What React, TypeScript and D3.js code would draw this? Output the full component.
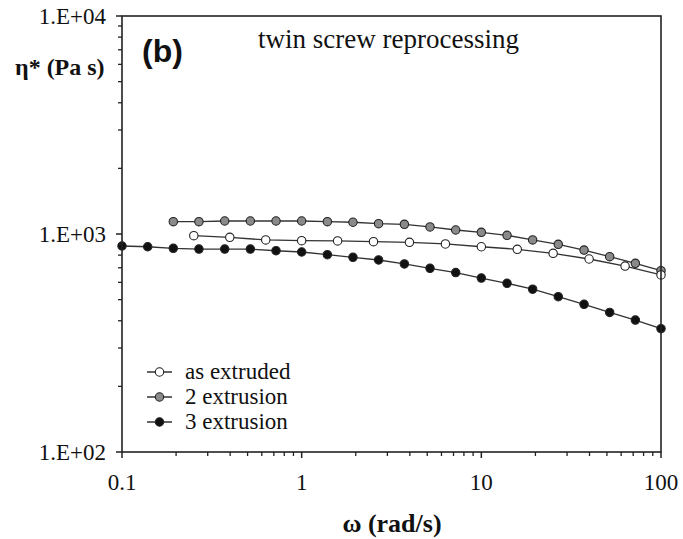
import React from "react";
import * as d3 from "d3";

const freqAsExtruded = [0.251, 0.398, 0.631, 1, 1.585, 2.51, 3.98, 6.31, 10, 15.85, 25.1, 39.8, 63.1, 100];
const etaAsExtruded = [982, 966, 939, 932, 929, 922, 916, 900, 874, 851, 815, 768, 713, 649];

const freq2Extrusion = [0.193, 0.268, 0.373, 0.518, 0.72, 1, 1.39, 1.93, 2.68, 3.73, 5.18, 7.2, 10, 13.9, 19.3, 26.8, 37.3, 51.8, 72, 100];
const eta2Extrusion = [1139, 1139, 1147, 1147, 1147, 1147, 1139, 1132, 1115, 1108, 1077, 1043, 1018, 986, 939, 897, 844, 787, 734, 679];

const freq3Extrusion = [0.1, 0.139, 0.193, 0.268, 0.373, 0.518, 0.72, 1, 1.39, 1.93, 2.68, 3.73, 5.18, 7.2, 10, 13.9, 19.3, 26.8, 37.3, 51.8, 72, 100];
const eta3Extrusion = [881, 874, 860, 853, 853, 853, 838, 827, 804, 782, 760, 729, 696, 665, 628, 594, 558, 516, 476, 437, 403, 368];

const xTickValues = [0.1, 1, 10, 100];
const xTickLabels = ["0.1", "1", "10", "100"];
const yTickValues = [100, 1000, 10000];
const yTickLabels = ["1.E+02", "1.E+03", "1.E+04"];

const seriesNames = ["as extruded", "2 extrusion", "3 extrusion"];
const seriesFills = ["#ffffff", "#8a8a8a", "#111111"];

const W = 683, H = 539;
const L = 122, R = 661, T = 16, B = 452;

export default function App() {
  const x = d3.scaleLog().domain([0.1, 100]).range([L, R]);
  const y = d3.scaleLog().domain([100, 10000]).range([B, T]);

  const series = [
    { f: freqAsExtruded, v: etaAsExtruded },
    { f: freq2Extrusion, v: eta2Extrusion },
    { f: freq3Extrusion, v: eta3Extrusion },
  ];

  const line = d3.line<[number, number]>().x((d) => x(d[0])).y((d) => y(d[1]));

  const xMinor: number[] = [];
  for (let dec = 0.1; dec < 100; dec *= 10) {
    for (let k = 2; k <= 9; k++) xMinor.push(dec * k);
  }
  const yMinor: number[] = [];
  for (let dec = 100; dec < 10000; dec *= 10) {
    for (let k = 2; k <= 9; k++) yMinor.push(dec * k);
  }

  const serif = "'Liberation Serif', 'Times New Roman', serif";
  const legendY = [372, 397, 422];

  return (
    <svg width={W} height={H} style={{ position: "absolute", left: 0, top: 0, background: "#fff" }} fontFamily={serif}>
      <rect x={0} y={0} width={W} height={H} fill="#fff" />
      {/* series */}
      {[1, 0, 2].map((si) => {
        const s = series[si];
        const pts: [number, number][] = s.f.map((f, i) => [f, s.v[i]]);
        return (
          <g key={si}>
            <path d={line(pts) || ""} fill="none" stroke="#333" strokeWidth={1.3} />
            {pts.map((p, i) => (
              <circle key={i} cx={x(p[0])} cy={y(p[1])} r={4.2} fill={seriesFills[si]} stroke="#222" strokeWidth={1.1} />
            ))}
          </g>
        );
      })}
      {/* frame */}
      <rect x={L} y={T} width={R - L} height={B - T} fill="none" stroke="#222" strokeWidth={1.6} />
      {/* x ticks */}
      {xTickValues.map((v, i) => (
        <g key={"xt" + i}>
          <line x1={x(v)} x2={x(v)} y1={B} y2={B + 6} stroke="#222" strokeWidth={1.5} />
          <text x={x(v)} y={490} textAnchor="middle" fontSize={23} fill="#111">{xTickLabels[i]}</text>
        </g>
      ))}
      {xMinor.map((v, i) => (
        <line key={"xm" + i} x1={x(v)} x2={x(v)} y1={B} y2={B + 4} stroke="#222" strokeWidth={1.3} />
      ))}
      {/* y ticks */}
      {yTickValues.map((v, i) => (
        <g key={"yt" + i}>
          <line x1={L - 6} x2={L} y1={y(v)} y2={y(v)} stroke="#222" strokeWidth={1.5} />
          <text x={106} y={y(v) + 8} textAnchor="end" fontSize={23} fill="#111">{yTickLabels[i]}</text>
        </g>
      ))}
      {yMinor.map((v, i) => (
        <line key={"ym" + i} x1={L - 4} x2={L} y1={y(v)} y2={y(v)} stroke="#222" strokeWidth={1.3} />
      ))}
      {/* axis titles */}
      <text x={15} y={75} fontSize={24} fontWeight="bold" fill="#111">η* (Pa s)</text>
      <text x={392} y={532} textAnchor="middle" fontSize={26} fontWeight="bold" fill="#111">ω (rad/s)</text>
      <text x={142} y={62} fontSize={32} fontWeight="bold" fontFamily="'Liberation Sans', Arial, sans-serif" fill="#111">(b)</text>
      <text x={258} y={48} fontSize={27} fill="#111">twin screw reprocessing</text>
      {/* legend */}
      {seriesNames.map((name, i) => (
        <g key={"lg" + i}>
          <line x1={147} x2={172} y1={legendY[i]} y2={legendY[i]} stroke="#333" strokeWidth={1.5} />
          <circle cx={159.5} cy={legendY[i]} r={4.2} fill={seriesFills[i]} stroke="#222" strokeWidth={1.1} />
          <text x={185} y={legendY[i] + 7} fontSize={23} fill="#111">{name}</text>
        </g>
      ))}
    </svg>
  );
}
